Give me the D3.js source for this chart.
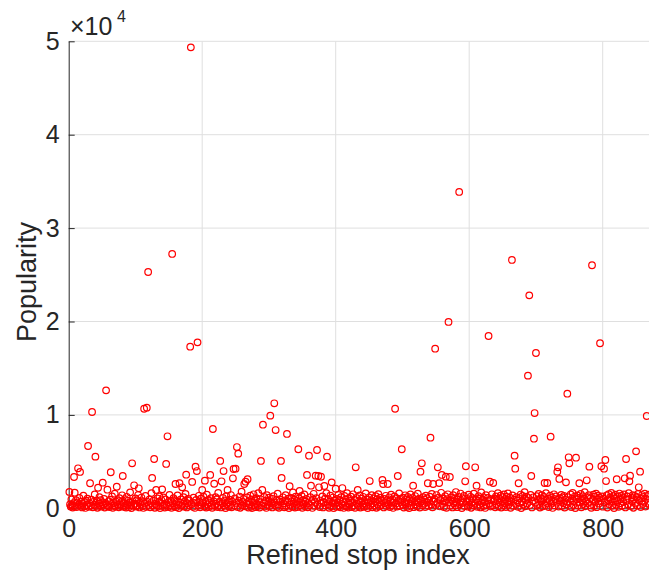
<!DOCTYPE html>
<html>
<head>
<meta charset="utf-8">
<script src="https://cdn.jsdelivr.net/npm/d3@7"></script>
<style>
  html, body { margin: 0; padding: 0; background: #fff; }
  svg { display: block; }
  text { font-family: "Liberation Sans", Arial, Helvetica, sans-serif; fill: #262626; }
</style>
</head>
<body>
<svg id="chart" width="649" height="577"></svg>
<script>
// Popularity of each refined stop, listed by stop index 1..870
const popularity = [
  // 1-20
  1750, 420, 180, 960, 310, 70, 540, 3350, 1670, 230, 880, 140, 620, 4280, 390, 1120, 3890, 260, 710, 90,
  // 21-40
  480, 1350, 200, 650, 40, 820, 330, 1040, 6670, 150, 560, 2680, 270, 930, 10310, 110, 690, 380, 1480, 5530,
  // 41-60
  240, 790, 60, 2200, 510, 1190, 300, 860, 170, 640, 2740, 420, 1010, 80, 570, 12630, 350, 1990, 210, 760,
  // 61-80
  130, 920, 3860, 460, 1270, 50, 600, 290, 1560, 190, 720, 2310, 370, 840, 100, 1080, 440, 220, 680, 1390,
  // 81-100
  3460, 160, 530, 990, 280, 70, 1230, 410, 810, 120, 600, 1710, 340, 20, 4820, 750, 250, 2460, 490, 1060,
  // 101-120
  180, 870, 310, 1420, 2140, 90, 630, 400, 1150, 230, 770, 40, 10660, 520, 1320, 150, 10770, 680, 25300, 360,
  // 121-140
  940, 110, 560, 1630, 3250, 270, 820, 5280, 60, 470, 1960, 330, 1050, 190, 710, 1280, 30, 590, 880, 2030,
  // 141-160
  250, 1160, 430, 80, 960, 4750, 380, 7710, 140, 650, 1440, 300, 780, 50, 27230, 540, 1090, 210, 860, 2600,
  // 161-180
  120, 700, 1370, 390, 20, 2680, 610, 950, 260, 2250, 480, 1200, 170, 740, 1530, 3600, 90, 520, 1010, 320,
  // 181-200
  830, 17300, 49350, 440, 2820, 160, 1130, 590, 40, 4460, 900, 3990, 17770, 280, 1340, 660, 110, 1020, 350, 1960,
  // 201-220
  560, 1240, 200, 2960, 730, 70, 1460, 410, 890, 150, 620, 3570, 1080, 330, 50, 8490, 770, 2630, 240, 1190,
  // 221-240
  480, 980, 130, 1650, 360, 700, 5070, 90, 2890, 540, 1110, 3990, 270, 850, 30, 1300, 460, 1960, 640, 180,
  // 241-260
  920, 390, 1420, 100, 710, 3210, 4210, 260, 1050, 4240, 580, 6560, 140, 5850, 810, 1260, 60, 470, 1780, 300,
  // 261-280
  690, 1000, 2600, 210, 2850, 530, 1170, 3110, 80, 760, 420, 1350, 160, 940, 30, 620, 1500, 350, 870, 120,
  // 281-300
  1090, 450, 240, 1620, 680, 70, 990, 5070, 310, 1960, 8950, 560, 1220, 190, 800, 40, 1410, 370, 730, 1140,
  // 301-320
  220, 9920, 600, 1030, 90, 480, 1290, 11240, 340, 8380, 870, 150, 1560, 420, 60, 960, 710, 5070, 3250, 280,
  // 321-340
  1180, 530, 100, 840, 1400, 230, 7960, 650, 1020, 20, 2360, 390, 1110, 760, 170, 1690, 500, 930, 80, 1250,
  // 341-360
  410, 790, 130, 6320, 1060, 1850, 290, 620, 1330, 50, 880, 460, 1480, 200, 700, 1010, 3570, 110, 570, 5630,
  // 361-380
  330, 1200, 2420, 760, 40, 940, 1550, 250, 680, 3490, 1090, 6240, 380, 3460, 2250, 140, 830, 3380, 520, 1270,
  // 381-400
  90, 660, 2390, 1040, 310, 1610, 5530, 440, 970, 60, 740, 1360, 210, 2780, 580, 1150, 30, 820, 480, 2100,
  // 401-420
  170, 1010, 620, 1440, 270, 890, 100, 1190, 450, 2170, 730, 40, 1320, 350, 960, 190, 1630, 560, 80, 1070,
  // 421-440
  400, 780, 1250, 130, 640, 1500, 300, 910, 50, 4390, 1120, 490, 1960, 220, 830, 1380, 70, 690, 1020, 360,
  // 441-460
  1230, 150, 770, 470, 1590, 240, 940, 20, 610, 1160, 2920, 320, 850, 1410, 110, 530, 1060, 280, 720, 1290,
  // 461-480
  60, 980, 430, 1520, 190, 670, 1130, 350, 800, 3030, 2600, 90, 1000, 540, 1340, 230, 880, 2600, 410, 1180,
  // 481-500
  130, 750, 1450, 300, 960, 40, 620, 1270, 10660, 500, 1080, 180, 3460, 830, 1600, 260, 700, 1020, 6320, 370,
  // 501-520
  1140, 80, 640, 1390, 450, 910, 160, 1210, 560, 30, 990, 1480, 290, 760, 1100, 2420, 120, 680, 1310, 420,
  // 521-540
  870, 210, 1570, 590, 1040, 70, 3920, 780, 4820, 330, 1190, 500, 940, 140, 1360, 650, 1070, 2680, 260, 820,
  // 541-560
  1250, 7560, 400, 1530, 100, 2600, 710, 1010, 17090, 360, 1420, 580, 4390, 1130, 2700, 200, 890, 1660, 3570, 470,
  // 561-580
  1060, 140, 760, 1290, 3390, 50, 990, 1500, 19950, 620, 3350, 270, 1170, 850, 90, 1400, 530, 1040, 310, 1740,
  // 581-600
  680, 120, 960, 1210, 33870, 440, 1580, 800, 30, 1100, 590, 1320, 230, 2890, 4500, 720, 1010, 170, 1460, 380,
  // 601-620
  870, 1230, 60, 640, 1090, 290, 1560, 480, 4390, 940, 2420, 150, 780, 1300, 410, 1050, 90, 1690, 560, 920,
  // 621-640
  240, 1180, 690, 40, 1410, 350, 830, 1120, 18450, 510, 2850, 190, 970, 1500, 320, 2710, 750, 1030, 110, 1270,
  // 641-660
  460, 880, 1620, 200, 1060, 620, 1350, 70, 790, 1190, 300, 1480, 540, 980, 130, 1250, 700, 1590, 380, 860,
  // 661-680
  1140, 50, 670, 26590, 1380, 250, 930, 5630, 4240, 470, 1200, 820, 160, 2680, 1070, 580, 1470, 30, 740, 1320,
  // 681-700
  400, 1010, 1730, 210, 860, 1240, 520, 14200, 1100, 22800, 340, 1430, 3460, 90, 780, 1180, 7450, 10200, 600, 16630,
  // 701-720
  1290, 270, 950, 1540, 440, 80, 1060, 710, 1400, 190, 880, 1220, 2710, 360, 1610, 570, 2710, 1020, 130, 830,
  // 721-740
  1360, 7670, 480, 1150, 40, 720, 1500, 310, 990, 1280, 600, 3920, 4390, 180, 3140, 1080, 850, 1440, 250, 1170,
  // 741-760
  540, 1330, 70, 910, 2780, 420, 12270, 1200, 5460, 4820, 690, 1490, 140, 1030, 1650, 380, 800, 1260, 20, 5420,
  // 761-780
  960, 1380, 290, 1110, 2680, 630, 1540, 100, 870, 1300, 450, 1020, 1720, 220, 760, 3000, 1190, 560, 1410, 4460,
  // 781-800
  330, 1080, 50, 26020, 900, 1460, 240, 1250, 680, 1570, 120, 990, 1350, 500, 1130, 17670, 790, 4500, 1280, 170,
  // 801-820
  1040, 4240, 610, 5170, 2920, 1390, 80, 860, 1520, 430, 1170, 940, 1640, 260, 720, 1300, 30, 1060, 1450, 370,
  // 821-840
  3110, 820, 1210, 150, 1580, 540, 1000, 1360, 280, 1110, 670, 1490, 3210, 90, 5280, 910, 1270, 400, 1620, 2890,
  // 841-860
  3490, 230, 1150, 760, 1400, 60, 990, 1330, 520, 6100, 1190, 310, 1540, 2250, 840, 3920, 140, 1080, 1420, 460,
  // 861-870
  1230, 700, 1570, 190, 1010, 9880, 1300, 560, 1460, 350
];

const xTicks = [0, 200, 400, 600, 800];
const yTicks = [0, 10000, 20000, 30000, 40000, 50000];
const xLabel = "Refined stop index";
const yLabel = "Popularity";

const svg = d3.select("#chart");
const plotLeft = 68.7, plotRight = 669.45, plotTop = 41.3, plotBottom = 508.3;

const x = d3.scaleLinear().domain([0, 900]).range([plotLeft, plotRight]);
const y = d3.scaleLinear().domain([0, 50000]).range([plotBottom, plotTop]);

const axisColor = "#262626";
const gridColor = "#dfdfdf";
const tickFont = 25;
const labelFont = 27;

// grid
const grid = svg.append("g");
grid.selectAll("line.gx").data(xTicks.filter(d => d > 0)).join("line")
  .attr("x1", d => x(d)).attr("x2", d => x(d))
  .attr("y1", plotTop).attr("y2", plotBottom)
  .attr("stroke", gridColor).attr("stroke-width", 1);
grid.selectAll("line.gy").data(yTicks.filter(d => d > 0)).join("line")
  .attr("x1", plotLeft).attr("x2", plotRight)
  .attr("y1", d => y(d)).attr("y2", d => y(d))
  .attr("stroke", gridColor).attr("stroke-width", 1);

// axes
const yAxis = d3.axisLeft(y).tickValues(yTicks).tickFormat(d => d / 10000)
  .tickSizeInner(-6).tickSizeOuter(0).tickPadding(9);
const xAxis = d3.axisBottom(x).tickValues(xTicks).tickFormat(d3.format("d"))
  .tickSizeInner(-6).tickSizeOuter(0).tickPadding(10.5);

const gy = svg.append("g").attr("transform", `translate(${plotLeft},0)`).call(yAxis);
const gx = svg.append("g").attr("transform", `translate(0,${plotBottom})`).call(xAxis);
[gx, gy].forEach(g => {
  g.select(".domain").attr("stroke", axisColor).attr("stroke-width", 1);
  g.selectAll(".tick line").attr("stroke", axisColor).attr("stroke-width", 1);
  g.selectAll(".tick text").attr("font-size", tickFont).attr("fill", axisColor)
    .style("font-family", '"Liberation Sans", Arial, sans-serif');
});

// points
svg.append("g").selectAll("circle").data(popularity).join("circle")
  .attr("cx", (d, i) => x(i + 1))
  .attr("cy", d => y(d))
  .attr("r", 3.3)
  .attr("fill", "none")
  .attr("stroke", "#ff0000")
  .attr("stroke-width", 1.2);

// exponent marker
const exp = svg.append("text").attr("x", 70).attr("y", 35).attr("font-size", tickFont);
exp.append("tspan").text("\u00d710");
exp.append("tspan").attr("x", 117).attr("y", 22).attr("font-size", 16).text("4");

// axis titles
svg.append("text").attr("x", 358).attr("y", 564).attr("text-anchor", "middle")
  .attr("font-size", labelFont).text(xLabel);
svg.append("text").attr("transform", "translate(36,282) rotate(-90)")
  .attr("text-anchor", "middle").attr("font-size", labelFont).text(yLabel);
</script>
</body>
</html>
